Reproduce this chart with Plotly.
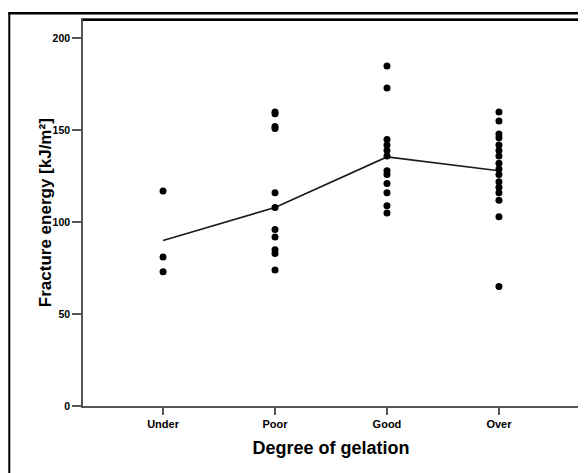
import plotly.graph_objects as go

categories = ["Under", "Poor", "Good", "Over"]
under_vals = [117, 81, 73]
poor_vals = [160, 159, 152, 151, 116, 108, 96, 92, 85, 83, 74]
good_vals = [185, 173, 145, 142, 139, 136, 128, 126, 121, 116, 109, 105]
over_vals = [160, 155, 148, 146, 142, 139, 136, 132, 129, 126, 122, 119, 116, 112, 103, 65]
mean_vals = [90, 108, 135.5, 128]
y_ticks = [0, 50, 100, 150, 200]

groups = [under_vals, poor_vals, good_vals, over_vals]
xs, ys = [], []
for cat, vals in zip(categories, groups):
    xs += [cat] * len(vals)
    ys += vals

fig = go.Figure()
fig.add_trace(go.Scatter(x=categories, y=mean_vals, mode="lines",
                         line=dict(color="#1a1a1a", width=1.6), hoverinfo="skip"))
fig.add_trace(go.Scatter(x=xs, y=ys, mode="markers",
                         marker=dict(color="black", size=7, symbol="circle")))

tickfont = dict(family="Liberation Sans, Arial, sans-serif", size=10.5, color="black", weight="bold")
titlefont = dict(family="Liberation Sans, Arial, sans-serif", size=18, color="black", weight="bold")

# page has an 8px body margin, so the figure is sized to fit the window
fig.update_layout(
    width=578, height=465,
    margin=dict(l=75, r=5, t=12, b=67),
    paper_bgcolor="white", plot_bgcolor="white",
    showlegend=False,
    xaxis=dict(type="category", categoryorder="array", categoryarray=categories,
               range=[-0.715, 3.715], showgrid=False, zeroline=False,
               showline=True, mirror=True, linecolor="#555", linewidth=1.5,
               ticks="outside", ticklen=7, tickcolor="#555", tickwidth=1.5,
               tickfont=dict(tickfont, size=11),
               title=dict(text="Degree of gelation", font=titlefont, standoff=12)),
    yaxis=dict(range=[0, 210], tickvals=y_ticks, showgrid=False, zeroline=False,
               showline=True, mirror=True, linecolor="#555", linewidth=1.5,
               ticks="outside", ticklen=9, tickcolor="#555", tickwidth=1.5,
               tickfont=tickfont),
)

fig.add_annotation(text="Fracture energy [kJ/m²]", xref="paper", yref="paper",
                   x=-0.0763, y=0.5, xanchor="center", yanchor="middle",
                   textangle=-90, showarrow=False, font=dict(titlefont, size=17))

# darker top edge of plot box
fig.add_shape(type="line", xref="paper", yref="paper", x0=0, x1=1, y0=1, y1=1,
              line=dict(color="black", width=2))
# outer frame: left edge and top edge
fig.add_shape(type="line", xref="paper", yref="paper", x0=-0.1486, x1=-0.1486,
              y0=-0.25, y1=1.02, line=dict(color="black", width=2))
fig.add_shape(type="line", xref="paper", yref="paper", x0=-0.1506, x1=1.05,
              y0=1.0175, y1=1.0175, line=dict(color="black", width=2.5))

fig.write_html("out.html")
